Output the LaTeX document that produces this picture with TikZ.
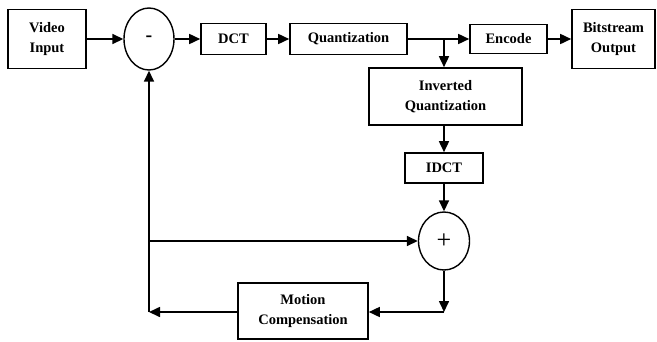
\documentclass[tikz,border=0pt]{standalone}
\usepackage{fontspec}
\setmainfont{Liberation Serif}
\usetikzlibrary{shapes.geometric,arrows.meta}
\begin{document}
\begin{tikzpicture}[x=1pt,y=-1pt,
  box/.style={draw,line width=1.6pt,rectangle,inner sep=0pt,align=center,
    font=\fontsize{14.5}{20}\selectfont\bfseries},
  sum/.style={draw,line width=1.4pt,ellipse,inner sep=0pt},
  flow/.style={line width=1.6pt,-{Triangle[length=11pt,width=10pt]}},
  plain/.style={line width=1.6pt}]
\useasboundingbox (0,0) rectangle (657,341);
\node[box,minimum width=78pt,minimum height=59pt] (vin) at (47,39) {Video\\Input};
\node[sum,minimum width=50pt,minimum height=62pt,font=\fontsize{20}{20}\selectfont\bfseries] (minus) at (149,39) {-};
\node[box,minimum width=65pt,minimum height=31pt] (dct) at (233.5,39) {DCT};
\node[box,minimum width=117pt,minimum height=31pt] (quant) at (348.5,39) {Quantization};
\node[box,minimum width=77pt,minimum height=29pt] (enc) at (508.5,39) {Encode};
\node[box,minimum width=83pt,minimum height=59pt] (bout) at (613.5,39) {Bitstream\\Output};
\node[box,minimum width=153pt,minimum height=57pt] (iq) at (445.5,96.5) {Inverted\\Quantization};
\node[box,minimum width=78pt,minimum height=30pt] (idct) at (444,168) {IDCT};
\node[sum,minimum width=51pt,minimum height=58pt,font=\fontsize{26}{26}\selectfont] (plus) at (444,241) {+};
\node[box,minimum width=130pt,minimum height=56pt] (mc) at (303,311) {Motion\\Compensation};
\coordinate (br) at (444,39);
\coordinate (cr) at (444,312);
\coordinate (cl) at (149,312);
\coordinate (fb) at (149,241);
\draw[flow] (vin.east) -- (minus.west);
\draw[flow] (minus.east) -- (dct.west);
\draw[flow] (dct.east) -- (quant.west);
\draw[flow] (quant.east) -- (enc.west);
\draw[flow] (br) -- (iq.north -| br);
\draw[flow] (enc.east) -- (bout.west);
\draw[flow] (iq.south -| idct) -- (idct.north);
\draw[flow] (idct.south) -- (plus.north);
\draw[flow] (plus.south) -- (cr);
\draw[flow] (cr) -- (mc.east |- cr);
\draw[flow] (mc.west |- cl) -- (cl);
\draw[flow] (cl) -- (minus.south);
\draw[flow] (fb) -- (plus.west);
\end{tikzpicture}
\end{document}
